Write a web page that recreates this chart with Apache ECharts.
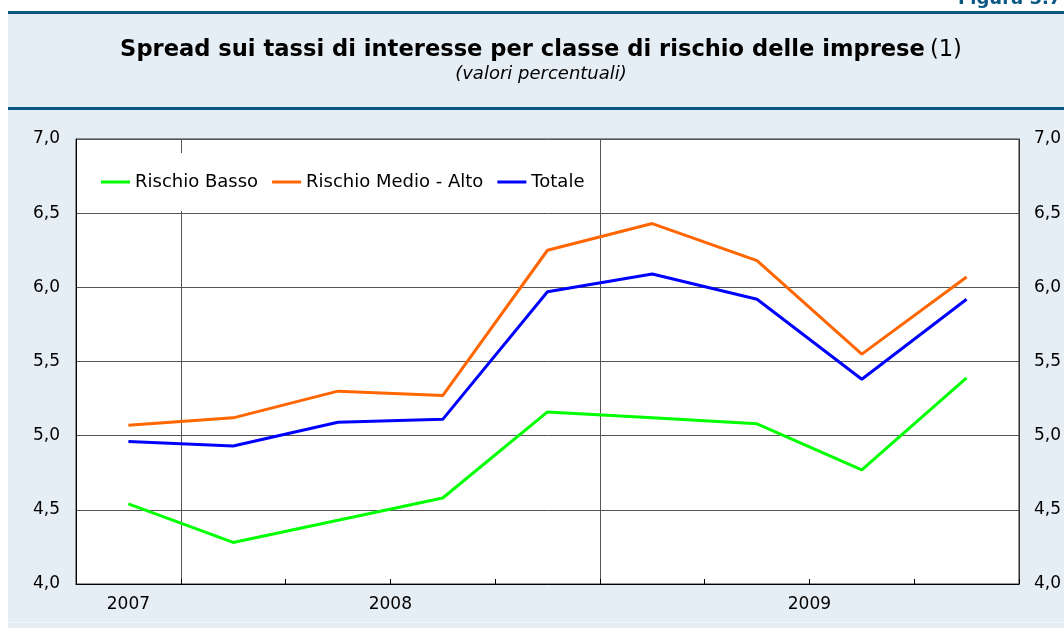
<!DOCTYPE html>
<html>
<head>
<meta charset="UTF-8">
<title>Spread sui tassi di interesse per classe di rischio</title>
<script src="https://cdn.jsdelivr.net/npm/echarts@6/dist/echarts.min.js"></script>
<style>
  html, body { margin: 0; padding: 0; background: #fff; }
  #main { width: 1064px; height: 628px; }
</style>
</head>
<body>
<div id="main"></div>
<script type="text/javascript">
// trimestri (non mostrati come etichette)
var trimestri = ['II 2007', 'III 2007', 'IV 2007', 'I 2008', 'II 2008', 'III 2008', 'IV 2008', 'I 2009', 'II 2009'];
// etichette degli anni e loro posizione sull'asse
var anni = ['2007', '2008', '2009'];
var posAnni = [0.5, 3, 7];
var nomi = ['Rischio Basso', 'Rischio Medio - Alto', 'Totale'];
var rischioBasso = [4.54, 4.28, 4.43, 4.58, 5.16, 5.12, 5.08, 4.77, 5.39];
var rischioMedioAlto = [5.07, 5.12, 5.30, 5.27, 6.25, 6.43, 6.18, 5.55, 6.07];
var totale = [4.96, 4.93, 5.09, 5.11, 5.97, 6.09, 5.92, 5.38, 5.92];

var font = 'DejaVu Sans';
var myChart = echarts.init(document.getElementById('main'));

function etichettaY(v) {
    return v.toFixed(1).replace('.', ',');
}

var option = {
    animation: false,
    backgroundColor: '#e6eef5',
    title: {
        text: '{b|Spread sui tassi di interesse per classe di rischio delle imprese} {n|(1)}',
        subtext: '(valori percentuali)',
        left: 541,
        textAlign: 'center',
        top: 37,
        itemGap: 4,
        padding: 0,
        textStyle: {
            rich: {
                b: { fontFamily: font, fontSize: 22.6, fontWeight: 'bold', color: '#000', lineHeight: 26 },
                n: { fontFamily: font, fontSize: 22.6, fontWeight: 'normal', color: '#000', lineHeight: 26 }
            }
        },
        subtextStyle: { fontFamily: font, fontSize: 18, fontStyle: 'italic', color: '#000', lineHeight: 20 }
    },
    legend: {
        data: nomi,
        left: 91,
        top: 153,
        backgroundColor: '#fff',
        padding: [20, 10],
        itemGap: 14,
        itemWidth: 29,
        itemHeight: 3,
        icon: 'rect',
        z: 10,
        textStyle: { fontFamily: font, fontSize: 18, color: '#000' }
    },
    grid: {
        show: true,
        left: 76,
        right: 40,
        top: 139,
        bottom: 44,
        backgroundColor: '#fff',
        borderColor: '#333',
        borderWidth: 1
    },
    xAxis: [
        {
            type: 'category',
            data: trimestri,
            boundaryGap: true,
            axisLine: { lineStyle: { color: '#000', width: 1 } },
            axisTick: { show: true, inside: true, length: 5, interval: 0, lineStyle: { color: '#000' } },
            axisLabel: { show: false },
            splitLine: {
                show: true,
                interval: function (i) { return i === 1 || i === 5; },
                lineStyle: { color: '#555', width: 1 }
            }
        },
        {
            type: 'value',
            position: 'bottom',
            min: 0,
            max: 9,
            interval: 0.5,
            axisLine: { show: false },
            axisTick: { show: false },
            splitLine: { show: false },
            axisLabel: {
                margin: 12,
                fontFamily: font,
                fontSize: 17,
                color: '#000',
                formatter: function (v) {
                    var k = posAnni.indexOf(v);
                    return k >= 0 ? anni[k] : '';
                }
            }
        }
    ],
    yAxis: [
        {
            type: 'value',
            min: 4,
            max: 7,
            interval: 0.5,
            axisLine: { show: true, lineStyle: { color: '#000' } },
            axisTick: { show: false },
            axisLabel: { margin: 16, fontFamily: font, fontSize: 17, color: '#000', formatter: etichettaY },
            splitLine: { lineStyle: { color: '#555', width: 1 } }
        },
        {
            type: 'value',
            position: 'right',
            min: 4,
            max: 7,
            interval: 0.5,
            axisLine: { show: true, lineStyle: { color: '#333' } },
            axisTick: { show: false },
            axisLabel: { margin: 15, fontFamily: font, fontSize: 17, color: '#000', formatter: etichettaY },
            splitLine: { show: false }
        }
    ],
    series: [
        {
            name: nomi[0],
            type: 'line',
            data: rischioBasso,
            symbol: 'none',
            color: '#00ff00',
            lineStyle: { width: 3, color: '#00ff00' }
        },
        {
            name: nomi[1],
            type: 'line',
            data: rischioMedioAlto,
            symbol: 'none',
            color: '#ff6600',
            lineStyle: { width: 3, color: '#ff6600' }
        },
        {
            name: nomi[2],
            type: 'line',
            data: totale,
            symbol: 'none',
            color: '#0000ff',
            lineStyle: { width: 3, color: '#0000ff' }
        }
    ],
    graphic: [
        { type: 'rect', shape: { x: 0, y: 0, width: 1064, height: 11 }, style: { fill: '#fff' } },
        { type: 'rect', shape: { x: 0, y: 0, width: 8, height: 628 }, style: { fill: '#fff' } },
        { type: 'rect', shape: { x: 8, y: 11, width: 1056, height: 3 }, style: { fill: '#0a5784' } },
        { type: 'rect', shape: { x: 8, y: 107, width: 1056, height: 3 }, style: { fill: '#0a5784' } },
        { type: 'rect', shape: { x: 8, y: 622, width: 1056, height: 1 }, style: { fill: '#f3f7fa' } },
        {
            type: 'text', left: 958, top: -10,
            style: { text: 'Figura 5.7', fill: '#0a5784', font: 'bold 18px "DejaVu Sans"' }
        }
    ]
};
myChart.setOption(option);
</script>
</body>
</html>
